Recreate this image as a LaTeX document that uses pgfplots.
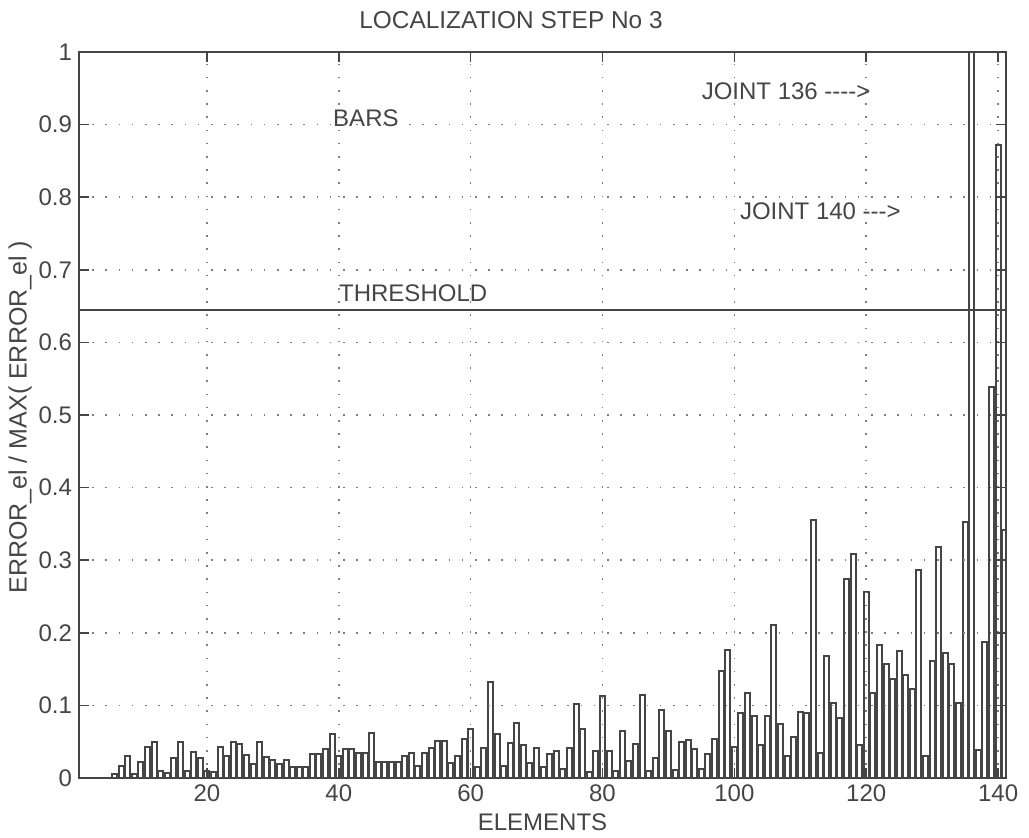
\documentclass[border=0pt]{standalone}
\usepackage{pgfplots}
\pgfplotsset{compat=1.18}
\usepackage{fontspec}
\setmainfont{Liberation Sans}
\definecolor{ink}{HTML}{454545}

\begin{document}
\begin{tikzpicture}
\path[use as bounding box] (-39.5pt,-29.5pt) rectangle (475pt,389pt);
\begin{axis}[
    at={(0,0)}, anchor=south west,
    scale only axis, width=463.5pt, height=363pt,
    xmin=0.6, xmax=141.2, ymin=0, ymax=1,
    xtick={20,40,...,140},
    ytick={0,0.1,0.2,0.3,0.4,0.5,0.6,0.7,0.8,0.9,1},
    axis on top,
    grid=major,
    major grid style={ink!70, line width=0.8pt, dash pattern=on 0.8pt off 5.8pt},
    axis line style={ink, line width=1pt},
    major tick style={ink, line width=0.8pt},
    major tick length=5pt,
    tick label style={font=\fontsize{12}{14}\selectfont, text=ink},
    /pgf/number format/assume math mode=true,
    title={LOCALIZATION STEP No 3},
    title style={font=\fontsize{12.2}{14}\selectfont, text=ink,
                 at={(axis description cs:0.466,1)}, yshift=10pt, anchor=center},
    xlabel={ELEMENTS},
    xlabel style={font=\fontsize{12}{14}\selectfont, text=ink,
                  at={(axis description cs:0.5,-0.0606)}, anchor=center},
    ylabel={ERROR\_el / MAX( ERROR\_el )},
    ylabel style={font=\fontsize{12.5}{14}\selectfont, text=ink,
                  at={(axis description cs:-0.0636,0.497)}, anchor=center},
]
% element errors, normalised
\addplot[ybar, bar width=0.76, fill=white, draw=ink, line width=1pt] coordinates {
(6,0.0055) (7,0.016) (8,0.030) (9,0.005) (10,0.022) (11,0.043) (12,0.050)
(13,0.010) (14,0.007) (15,0.028) (16,0.049) (17,0.009) (18,0.036) (19,0.028)
(20,0.010) (21,0.008) (22,0.043) (23,0.030) (24,0.050) (25,0.047) (26,0.031)
(27,0.019) (28,0.050) (29,0.029) (30,0.025) (31,0.019) (32,0.025) (33,0.015)
(34,0.015) (35,0.015) (36,0.033) (37,0.033) (38,0.040) (39,0.061) (40,0.030)
(41,0.040) (42,0.040) (43,0.035) (44,0.035) (45,0.062) (46,0.022) (47,0.022)
(48,0.022) (49,0.022) (50,0.030) (51,0.034) (52,0.016) (53,0.034) (54,0.041)
(55,0.051) (56,0.051) (57,0.020) (58,0.030) (59,0.054) (60,0.067) (61,0.015)
(62,0.042) (63,0.132) (64,0.060) (65,0.017) (66,0.048) (67,0.076) (68,0.045)
(69,0.020) (70,0.042) (71,0.015) (72,0.033) (73,0.037) (74,0.012) (75,0.041)
(76,0.102) (77,0.068) (78,0.008) (79,0.037) (80,0.113) (81,0.037) (82,0.010)
(83,0.065) (84,0.024) (85,0.047) (86,0.115) (87,0.010) (88,0.027) (89,0.093)
(90,0.065) (91,0.011) (92,0.050) (93,0.052) (94,0.040) (95,0.013) (96,0.033)
(97,0.054) (98,0.147) (99,0.176) (100,0.043) (101,0.089) (102,0.117) (103,0.086)
(104,0.045) (105,0.086) (106,0.211) (107,0.075) (108,0.030) (109,0.057) (110,0.091)
(111,0.090) (112,0.356) (113,0.034) (114,0.168) (115,0.104) (116,0.083) (117,0.274)
(118,0.309) (119,0.046) (120,0.256) (121,0.117) (122,0.183) (123,0.157) (124,0.137)
(125,0.175) (126,0.142) (127,0.122) (128,0.286) (129,0.030) (130,0.161) (131,0.318)
(132,0.172) (133,0.157) (134,0.104) (135,0.353) (136,1.05) (137,0.038) (138,0.188)
(139,0.538) (140,0.872) (141,0.341)
};
\addplot[ink, line width=1pt] coordinates {(0.6,0.645) (141.2,0.645)};
\node[anchor=west, text=ink, font=\fontsize{12}{14}\selectfont, inner sep=0pt]
    at (axis cs:39.1,0.909) {BARS};
\node[anchor=west, text=ink, font=\fontsize{12}{14}\selectfont, inner sep=0pt]
    at (axis cs:40,0.668) {THRESHOLD};
\node[anchor=west, text=ink, font=\fontsize{12}{14}\selectfont, inner sep=0pt]
    at (axis cs:95,0.946) {JOINT 136 {-}{-}{-}{-}>};
\node[anchor=west, text=ink, font=\fontsize{12}{14}\selectfont, inner sep=0pt]
    at (axis cs:100.8,0.781) {JOINT 140 {-}{-}{-}>};
\end{axis}
\end{tikzpicture}
\end{document}
